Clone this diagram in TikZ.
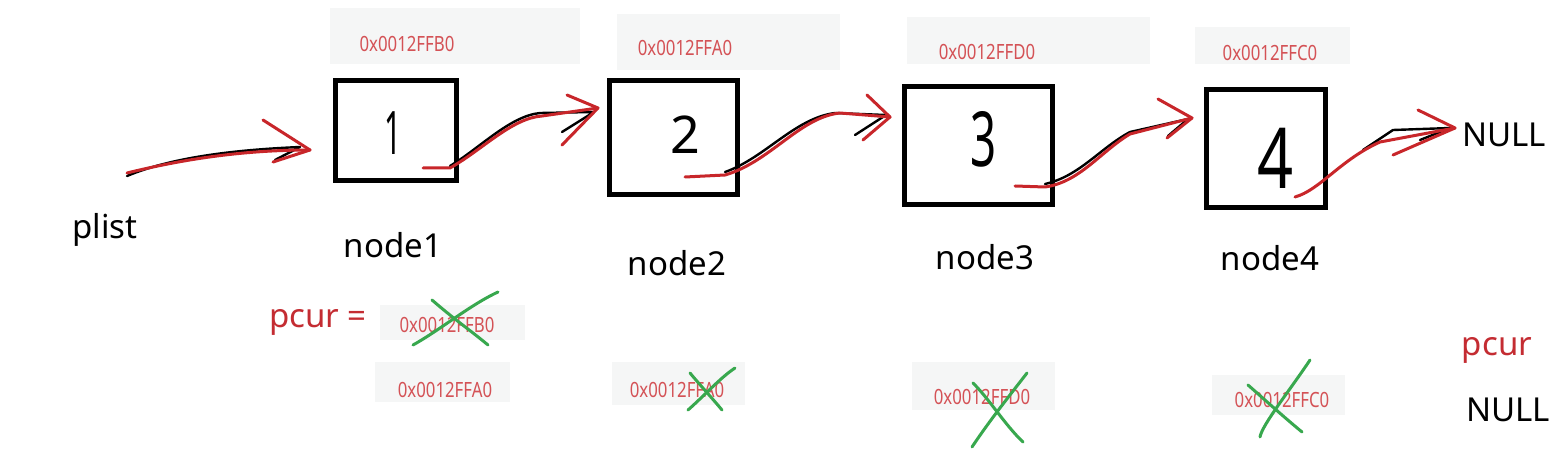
\documentclass[tikz,border=0pt]{standalone}
\usepackage{fontspec}
\setmainfont{Noto Sans}
\usepackage{graphicx}
\definecolor{penred}{RGB}{200,38,42}
\definecolor{addrred}{RGB}{212,82,86}
\definecolor{labred}{RGB}{196,44,50}
\definecolor{pengreen}{RGB}{56,168,78}
\definecolor{bggray}{RGB}{245,246,246}
\newcommand{\addrtxt}[1]{\scalebox{0.8}[1]{#1}}
\begin{document}
\begin{tikzpicture}[x=1pt,y=-1pt,
  box/.style={draw=black,line width=5pt,inner sep=0pt},
  digit/.style={font=\fontsize{60}{60}\selectfont,inner sep=0pt},
  lab/.style={font=\fontsize{33}{33}\selectfont,inner sep=0pt},
  redlab/.style={lab,text=labred},
  addr/.style={font=\fontsize{21}{21}\selectfont,text=addrred,inner sep=0pt},
  bgbox/.style={fill=bggray,draw=none},
  redpen/.style={draw=penred,line width=3pt,line cap=round,line join=round},
  blackpen/.style={draw=black,line width=2.4pt,line cap=round,line join=round},
  cross/.style={draw=pengreen,line width=3pt,line cap=round}]
\useasboundingbox[fill=white] (0,0) rectangle (1556,457);

% background patches of address labels
\fill[bgbox] (330,8) rectangle (580,64);
\fill[bgbox] (617,14) rectangle (840,70);
\fill[bgbox] (907,17) rectangle (1150,64);
\fill[bgbox] (1195,27) rectangle (1350,64);
\fill[bgbox] (380,305) rectangle (525,340);
\fill[bgbox] (375,362) rectangle (510,402);
\fill[bgbox] (612,362) rectangle (745,405);
\fill[bgbox] (912,362) rectangle (1055,410);
\fill[bgbox] (1212,375) rectangle (1345,415);

% boxes
\node[box,minimum width=121pt,minimum height=100pt] (b1) at (396,130.5) {};
\node[box,minimum width=128pt,minimum height=114pt] (b2) at (673.5,137.5) {};
\node[box,minimum width=148pt,minimum height=118pt] (b3) at (978.5,145.5) {};
\node[box,minimum width=119pt,minimum height=118pt] (b4) at (1266,148.5) {};

% digits
\node[digit] (d1) at (393,133) {\scalebox{0.5}[1]{1}};
\node[digit,font=\fontsize{52}{52}\selectfont] (d2) at (685,135) {2};
\node[digit,font=\fontsize{76}{76}\selectfont] (d3) at (984,139) {\scalebox{0.6}[1]{3}};
\node[digit,font=\fontsize{84}{84}\selectfont] (d4) at (1276,158) {\scalebox{0.75}[1]{4}};

% labels
\node[lab] (plist) at (105,230) {plist};
\node[lab] (n1) at (393,245) {node1};
\node[lab] (n2) at (677,263) {node2};
\node[lab] (n3) at (985,257) {node3};
\node[lab] (n4) at (1270,258) {node4};
\node[lab,anchor=west] (null1) at (1462,135) {NULL};

% top addresses
\node[addr] (a1) at (407,44) {\addrtxt{0x0012FFB0}};
\node[addr] (a2) at (685,48) {\addrtxt{0x0012FFA0}};
\node[addr] (a3) at (987,52) {\addrtxt{0x0012FFD0}};
\node[addr] (a4) at (1270,53) {\addrtxt{0x0012FFC0}};

% bottom
\node[redlab] (pcur1) at (318,322) {pcur =};
\node[addr] (c1) at (447,325) {\addrtxt{0x0012FFB0}};
\node[addr] (c2) at (445,390) {\addrtxt{0x0012FFA0}};
\node[addr] (c3) at (677,390) {\addrtxt{0x0012FFA0}};
\node[addr] (c4) at (982,397) {\addrtxt{0x0012FFD0}};
\node[addr] (c5) at (1282,400) {\addrtxt{0x0012FFC0}};
\node[redlab] (pcur2) at (1497,350) {pcur};
\node[lab] (null2) at (1508,410) {NULL};

% green crosses
\draw[cross] (432,300) .. controls (455,320) and (470,330) .. (488,345);
\draw[cross] (413,345) .. controls (440,330) and (470,305) .. (498,292);
\draw[cross] (690,373) .. controls (700,385) and (712,398) .. (722,410);
\draw[cross] (688,410) .. controls (705,395) and (720,378) .. (735,368);
\draw[cross] (973,383) .. controls (990,400) and (1005,425) .. (1023,442);
\draw[cross] (972,447) .. controls (990,420) and (1010,395) .. (1027,373);
\draw[cross] (1248,385) .. controls (1265,400) and (1285,418) .. (1302,432);
\draw[cross] (1260,437) .. controls (1262,425) and (1290,390) .. (1310,360);

% arrow coordinates
\coordinate (s0) at (127,173);  \coordinate (t0) at (310,150);
\coordinate (s1) at (423,168);  \coordinate (t1) at (598,108);
\coordinate (s2) at (685,177);  \coordinate (t2) at (890,117);
\coordinate (s3) at (1015,186); \coordinate (t3) at (1192,118);
\coordinate (s4) at (1295,197); \coordinate (t4) at (1455,128);

% plist -> node1
\draw[blackpen] ([yshift=-3pt]s0) .. controls (170,158) and (230,150) .. (300,147) -- (275,160);
\draw[redpen] (s0) .. controls (180,160) and (240,150) .. (t0);
\draw[redpen] (263,120) -- (t0) -- (273,162);
% node1 -> node2
\draw[blackpen] (450,166) .. controls (480,148) and (510,116) .. (540,113) -- (594,112) -- (562,132);
\draw[redpen] (s1) -- (450,168) .. controls (482,150) and (512,118) .. (542,116) -- (t1);
\draw[redpen] (567,95) -- (t1) -- (562,145);
% node2 -> node3
\draw[blackpen] (725,172) .. controls (765,158) and (795,118) .. (835,113) -- (886,115) -- (855,135);
\draw[redpen] (s2) -- (725,175) .. controls (770,162) and (800,117) .. (840,113) -- (t2);
\draw[redpen] (867,95) -- (t2) -- (863,140);
% node3 -> node4
\draw[blackpen] (1045,184) .. controls (1080,176) and (1100,148) .. (1130,132) -- (1188,119) -- (1168,136);
\draw[redpen] (s3) -- (1045,187) .. controls (1080,182) and (1100,152) .. (1130,134) -- (t3);
\draw[redpen] (1158,99) -- (t3) -- (1167,138);
% node4 -> NULL
\draw[blackpen] (1363,150) -- (1393,130) -- (1450,128) -- (1420,140);
\draw[redpen] (s4) .. controls (1320,190) and (1340,160) .. (1380,142) -- (t4);
\draw[redpen] (1418,110) -- (t4) -- (1393,155);
\end{tikzpicture}
\end{document}
